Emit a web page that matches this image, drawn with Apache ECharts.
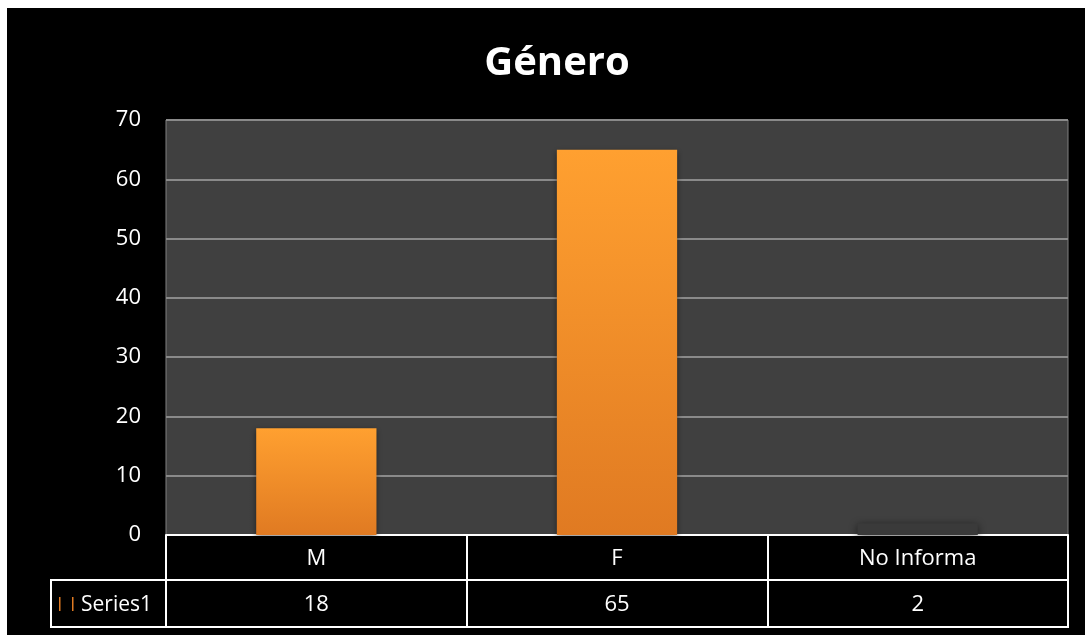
<!DOCTYPE html>
<html>
<head>
<meta charset="utf-8">
<script src="https://cdn.jsdelivr.net/npm/echarts@6/dist/echarts.min.js"></script>
<style>
html,body{margin:0;padding:0;background:#fff;}
#frame{position:absolute;left:7px;top:8px;width:1078px;height:627px;background:#000;}
#chart{position:absolute;left:0;top:0;width:1085px;height:635px;}
</style>
</head>
<body>
<div id="frame"></div>
<div id="chart"></div>
<script>
const title = 'Género';
const categories = ['M', 'F', 'No Informa'];
const seriesName = 'Series1';
const values = [18, 65, 2];
const yTicks = [0, 10, 20, 30, 40, 50, 60, 70];

const chart = echarts.init(document.getElementById('chart'), null, {renderer: 'canvas'});
const font = '"Open Sans", "Noto Sans", sans-serif';
const barGrad = new echarts.graphic.LinearGradient(0, 0, 0, 1, [
  {offset: 0, color: '#ffa030'},
  {offset: 1, color: '#e07a22'}
]);
const barData = values.map((v, i) => ({
  value: v,
  itemStyle: i === 2 ? {color: '#3a3a3a', shadowColor: 'rgba(0,0,0,0.6)', shadowBlur: 8} : {color: barGrad}
}));

chart.setOption({
  backgroundColor: 'transparent',
  animation: false,
  title: {
    text: title, left: 552, top: 39, textAlign: 'center',
    textStyle: {color: '#fff', fontSize: 40, fontWeight: 'bold', fontFamily: font}
  },
  grid: {left: 166, right: 17, top: 120, bottom: 100, show: true, backgroundColor: '#404040', borderColor: '#808080', borderWidth: 1},
  xAxis: [
    {
      type: 'category', data: categories, position: 'bottom',
      axisLine: {show: true, lineStyle: {color: '#fff', width: 2}},
      axisTick: {show: true, interval: 0, length: 45, lineStyle: {color: '#fff', width: 2}},
      axisLabel: {color: '#fff', fontSize: 22, fontFamily: font, margin: 13}
    },
    {
      type: 'category', data: values.map(String), position: 'bottom', offset: 45,
      axisLine: {show: true, lineStyle: {color: '#fff', width: 2}},
      axisTick: {show: true, interval: 0, length: 47, lineStyle: {color: '#fff', width: 2}},
      axisLabel: {color: '#fff', fontSize: 22, fontFamily: font, margin: 14}
    }
  ],
  yAxis: {
    type: 'value', min: yTicks[0], max: yTicks[yTicks.length - 1], interval: 10,
    axisLine: {show: false}, axisTick: {show: false},
    axisLabel: {color: '#fff', fontSize: 22, fontFamily: font, margin: 25},
    splitLine: {show: true, lineStyle: {color: '#8a8a8a', width: 2}}
  },
  series: [{
    name: seriesName, type: 'bar', xAxisIndex: 0, data: barData, barWidth: '40%',
    itemStyle: {shadowColor: 'rgba(0,0,0,0.5)', shadowBlur: 6, shadowOffsetY: 2}
  }],
  graphic: [
    {type: 'line', shape: {x1: 51, y1: 627, x2: 1069, y2: 627}, style: {stroke: '#fff', lineWidth: 2}},
    {type: 'line', shape: {x1: 51, y1: 580, x2: 166, y2: 580}, style: {stroke: '#fff', lineWidth: 2}},
    {type: 'line', shape: {x1: 51, y1: 579, x2: 51, y2: 628}, style: {stroke: '#fff', lineWidth: 2}},
    {type: 'rect', shape: {x: 59, y: 597, width: 1.5, height: 14}, style: {fill: '#e07a22'}},
    {type: 'rect', shape: {x: 72, y: 597, width: 1.5, height: 14}, style: {fill: '#e07a22'}},
    {type: 'text', style: {text: seriesName, x: 81, y: 605, textVerticalAlign: 'middle', fill: '#fff', fontSize: 21, fontFamily: font}}
  ]
});
</script>
</body>
</html>
